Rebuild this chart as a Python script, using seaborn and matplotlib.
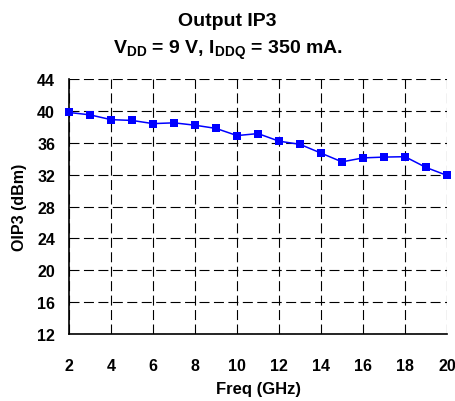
import matplotlib
matplotlib.use("Agg")
import matplotlib.pyplot as plt
import seaborn as sns
import pandas as pd

# Output IP3 vs frequency
freq_ghz = [2, 3, 4, 5, 6, 7, 8, 9, 10, 11, 12, 13, 14, 15, 16, 17, 18, 19, 20]
oip3_dbm = [39.8, 39.5, 38.9, 38.8, 38.4, 38.5, 38.2, 37.8, 36.9, 37.15,
            36.2, 35.8, 34.7, 33.6, 34.1, 34.2, 34.25, 32.9, 31.9]
x_ticks = [2, 4, 6, 8, 10, 12, 14, 16, 18, 20]
y_ticks = [12, 16, 20, 24, 28, 32, 36, 40, 44]


def main():
    df = pd.DataFrame({"freq": freq_ghz, "oip3": oip3_dbm})

    sns.set_theme(style="white", rc={
        "text.color": "black",
        "axes.labelcolor": "black",
        "xtick.color": "black",
        "ytick.color": "black",
    })
    plt.rcParams["font.family"] = ["Liberation Sans", "DejaVu Sans"]
    plt.rcParams["font.weight"] = "bold"
    plt.rcParams["mathtext.fontset"] = "custom"
    plt.rcParams["mathtext.rm"] = "Liberation Sans:bold"
    plt.rcParams["mathtext.bf"] = "Liberation Sans:bold"
    plt.rcParams["mathtext.it"] = "Liberation Sans:bold"

    fig = plt.figure(figsize=(4.55, 4.02), dpi=100)
    ax = fig.add_axes([69 / 455, 1 - 335 / 402, 378 / 455, 255 / 402])

    sns.lineplot(data=df, x="freq", y="oip3", ax=ax, color="#0000ff",
                 marker="s", markersize=5.5, markeredgewidth=0, linewidth=1.1,
                 zorder=3, clip_on=False)

    ax.set_xlim(2, 20)
    ax.set_ylim(12, 44)
    ax.set_xticks(x_ticks)
    ax.set_yticks(y_ticks)
    ax.tick_params(axis="both", labelsize=11.5, length=4, width=1,
                   direction="out", color="black", labelcolor="black")
    ax.tick_params(axis="x", pad=13)
    ax.tick_params(axis="y", pad=6)
    for lbl in ax.get_xticklabels() + ax.get_yticklabels():
        lbl.set_fontweight("bold")

    ax.grid(True, color="black", linestyle=(0, (9, 4)), linewidth=0.8)
    for side in ["top", "right"]:
        ax.spines[side].set_visible(False)
    for side in ["left", "bottom"]:
        ax.spines[side].set_color("black")
        ax.spines[side].set_linewidth(1.2)

    ax.set_xlabel("Freq (GHz)", fontsize=12, fontweight="bold", labelpad=6,
                  color="black")
    ax.set_ylabel("OIP3 (dBm)", fontsize=11.5, fontweight="bold", labelpad=7,
                  color="black")

    fig.text(0.5, 1 - 21 / 402, "Output IP3", ha="center", va="center",
             fontsize=14, fontweight="bold", color="black")
    fig.text(0.5, 1 - 50 / 402,
             r"V$_{DD}$ = 9 V, I$_{DDQ}$ = 350 mA.", ha="center",
             va="center", fontsize=14, fontweight="bold", color="black")

    fig.savefig("out.png", dpi=100)
    plt.close(fig)


if __name__ == "__main__":
    main()
